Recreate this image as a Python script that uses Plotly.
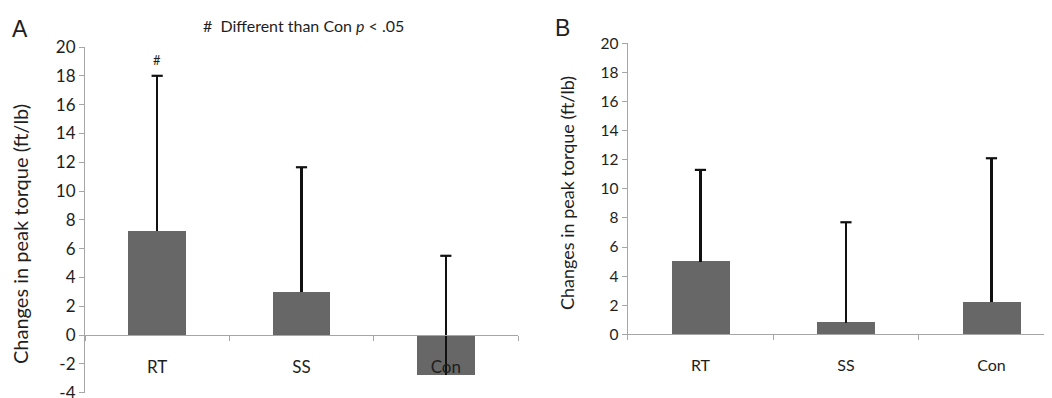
import plotly.graph_objects as go

categories = ["RT", "SS", "Con"]
a_means = [7.2, 3.0, -2.75]
a_err_plus = [10.8, 8.65, 8.25]
b_means = [5.0, 0.8, 2.2]
b_err_plus = [6.3, 6.9, 9.9]
a_yticks = [-4, -2, 0, 2, 4, 6, 8, 10, 12, 14, 16, 18, 20]
a_yticklabels = ["-4", "-2", "0", "2", "4", "6", "8", "10", "12", "14", "16", "18", "20"]
b_yticks = [0, 2, 4, 6, 8, 10, 12, 14, 16, 18, 20]
b_yticklabels = ["0", "2", "4", "6", "8", "10", "12", "14", "16", "18", "20"]

# the page body has an 8px margin, so the figure is sized to fill the rest of the window
OFF = 8
W, H = 1052 - OFF, 398 - OFF
FONT = "Lato"
BAR = "#676767"
AXIS = "#a6a6a6"
TXT = "#1e1e1e"
ERR = "#111111"

def px(x):
    return (x - OFF) / W

def py(y):
    return (398 - y) / H

fig = go.Figure()

def add_panel(means, errs, xa, ya):
    fig.add_trace(go.Bar(
        x=categories, y=means, width=0.4, marker=dict(color=BAR, line=dict(width=0)),
        error_y=dict(type="data", symmetric=False, array=errs, arrayminus=[0] * len(errs),
                     color=ERR, thickness=2.2, width=0),
        xaxis=xa, yaxis=ya, showlegend=False, hoverinfo="skip"))
    tops = [m + e for m, e in zip(means, errs)]
    fig.add_trace(go.Scatter(
        x=categories, y=tops, mode="markers",
        marker=dict(symbol="line-ew", size=8, line=dict(color=ERR, width=2.2)),
        xaxis=xa, yaxis=ya, showlegend=False, hoverinfo="skip", cliponaxis=False))

add_panel(a_means, a_err_plus, "x", "y")
add_panel(b_means, b_err_plus, "x2", "y2")

# panel A geometry
a_y0, a_y1 = py(392.6), py(47)
a_range = [-4, 20]
a_xpos = a_y0 + (a_y1 - a_y0) * (0 - a_range[0]) / (a_range[1] - a_range[0])

axis_common = dict(showgrid=False, zeroline=False, showline=True, linecolor=AXIS, linewidth=1.2,
                   ticks="outside", ticklen=5, tickcolor=AXIS, tickwidth=1.2, automargin=False,
                   ticklabeloverflow="allow")

fig.update_layout(
    width=W, height=H, margin=dict(l=0, r=0, t=0, b=0),
    paper_bgcolor="white", plot_bgcolor="white",
    font=dict(family=FONT, color=TXT),
    bargap=0,
    xaxis=dict(domain=[px(85), px(518)], anchor="free", position=a_xpos,
               type="category", categoryorder="array", categoryarray=categories,
               range=[-0.5, 2.5], tickson="boundaries", ticklabelstandoff=16,
               tickfont=dict(size=17, family=FONT, color=TXT), **axis_common),
    yaxis=dict(domain=[a_y0, a_y1], anchor="x", range=a_range,
               tickmode="array", tickvals=a_yticks, ticktext=a_yticklabels,
               tickfont=dict(size=17, family=FONT, color=TXT), **axis_common),
    xaxis2=dict(domain=[px(627.7), 1.0], anchor="y2",
                type="category", categoryorder="array", categoryarray=categories,
                range=[-0.5, 2.416], tickson="boundaries", ticklabelstandoff=16,
                tickfont=dict(size=16, family=FONT, color=TXT), **axis_common),
    yaxis2=dict(domain=[py(334.3), py(43.3)], anchor="x2", range=[0, 20],
                tickmode="array", tickvals=b_yticks, ticktext=b_yticklabels,
                tickfont=dict(size=15.5, family=FONT, color=TXT), **axis_common),
)

fig.add_annotation(x=px(20), y=py(234), xref="paper", yref="paper", text="Changes in peak torque (ft/lb)",
                   textangle=-90, showarrow=False, xanchor="center", yanchor="middle",
                   font=dict(size=20, family=FONT, color=TXT))
fig.add_annotation(x=px(567), y=py(193), xref="paper", yref="paper", text="Changes in peak torque (ft/lb)",
                   textangle=-90, showarrow=False, xanchor="center", yanchor="middle",
                   font=dict(size=18, family=FONT, color=TXT))
fig.add_annotation(x=px(201), y=py(26), xref="paper", yref="paper",
                   text="#\u00a0 Different than Con <i>p</i> &lt; .05",
                   showarrow=False, xanchor="left", yanchor="middle",
                   font=dict(size=16, family=FONT, color=TXT))
fig.add_annotation(x=px(10), y=py(28.5), xref="paper", yref="paper", text="A",
                   showarrow=False, xanchor="left", yanchor="middle",
                   font=dict(size=23, family="Liberation Sans", color=TXT))
fig.add_annotation(x=px(553), y=py(28), xref="paper", yref="paper", text="B",
                   showarrow=False, xanchor="left", yanchor="middle",
                   font=dict(size=23, family="Liberation Sans", color=TXT))
fig.add_annotation(x="RT", y=a_means[0] + a_err_plus[0], xref="x", yref="y", text="#",
                   showarrow=False, yanchor="bottom", yshift=6,
                   font=dict(size=13, family=FONT, color=TXT))

fig.write_html("out.html")
